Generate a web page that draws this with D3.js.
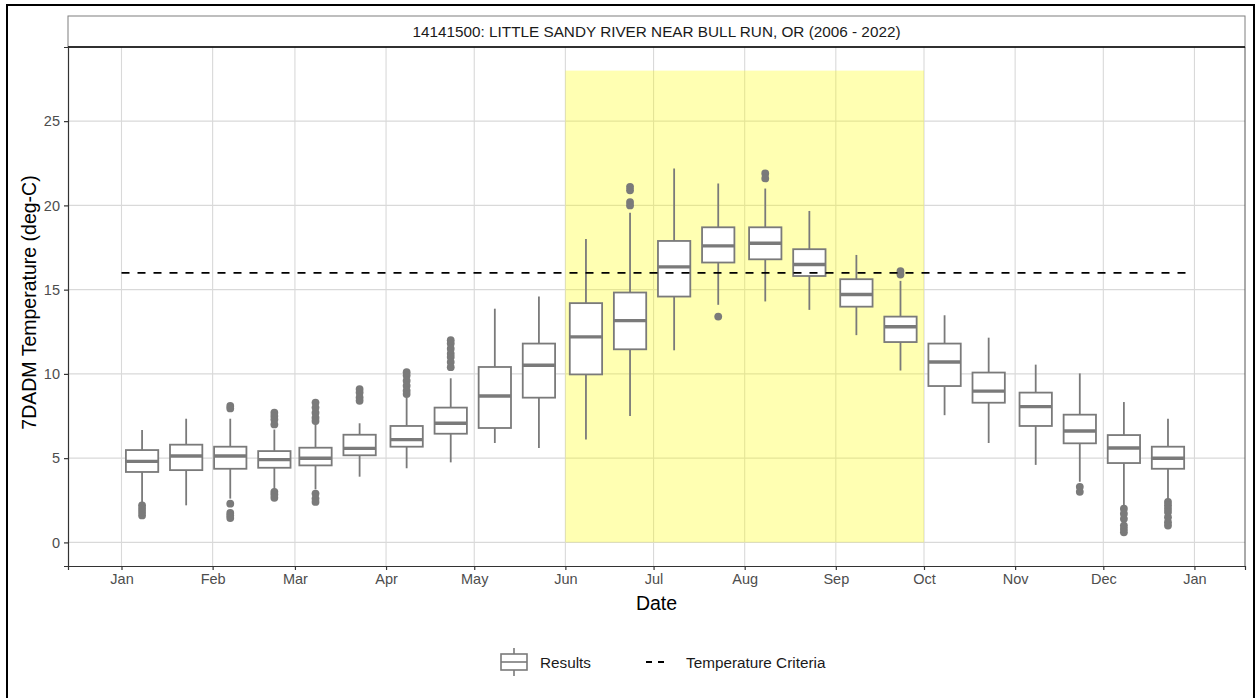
<!DOCTYPE html>
<html>
<head>
<meta charset="utf-8">
<script src="https://cdn.jsdelivr.net/npm/d3@7"></script>
<style>
  body { margin: 0; background: #fff; }
  svg { font-family: "Liberation Sans", Arial, sans-serif; }
</style>
</head>
<body>
<svg width="1257" height="698"></svg>
<script>
// semi-monthly boxes (centre dates, mm-dd)
let boxDates = ["01-08","01-23","02-07","02-22","03-08","03-23","04-08","04-23",
  "05-08","05-23","06-08","06-23","07-08","07-23","08-08","08-23",
  "09-08","09-23","10-08","10-23","11-08","11-23","12-08","12-23"];
let whiskLo = [2.35, 2.2, 2.6, 3.1, 3.15, 3.9, 4.4, 4.75, 5.9, 5.6, 6.1, 7.5,
  11.4, 14.1, 14.3, 13.8, 12.3, 10.2, 7.55, 5.9, 4.6, 3.6, 2.2, 2.55];
let q1 = [4.18, 4.29, 4.37, 4.43, 4.57, 5.17, 5.68, 6.45, 6.79, 8.59, 9.97, 11.46,
  14.59, 16.61, 16.8, 15.81, 13.99, 11.89, 9.28, 8.29, 6.91, 5.88, 4.71, 4.37];
let med = [4.81, 5.13, 5.13, 4.91, 4.99, 5.58, 6.1, 7.07, 8.69, 10.51, 12.2, 13.16,
  16.35, 17.6, 17.75, 16.49, 14.71, 12.8, 10.71, 8.98, 8.06, 6.61, 5.6, 4.99];
let q3 = [5.48, 5.8, 5.68, 5.42, 5.62, 6.39, 6.91, 8.0, 10.41, 11.8, 14.2, 14.83,
  17.89, 18.7, 18.7, 17.4, 15.62, 13.4, 11.8, 10.08, 8.89, 7.58, 6.37, 5.68];
let whiskHi = [6.67, 7.34, 7.34, 6.7, 7.1, 7.07, 8.59, 9.74, 13.87, 14.59, 18.0, 19.57,
  22.19, 21.3, 21.0, 19.67, 17.06, 15.52, 13.48, 12.15, 10.55, 10.03, 8.33, 7.34];
let outliers = [
  [2.2, 2.0, 1.8, 1.6],
  [],
  [8.1, 7.95, 2.3, 1.75, 1.6, 1.45],
  [7.7, 7.5, 7.3, 7.0, 3.0, 2.85, 2.65],
  [8.3, 8.0, 7.7, 7.4, 7.2, 2.9, 2.6, 2.4],
  [9.1, 8.9, 8.6, 8.4],
  [10.1, 9.9, 9.6, 9.3, 9.0, 8.8],
  [12.0, 11.8, 11.5, 11.2, 11.0, 10.7, 10.4],
  [], [], [],
  [21.1, 20.9, 20.2, 20.0],
  [],
  [13.4],
  [21.9, 21.6],
  [], [],
  [16.1, 15.9],
  [], [], [],
  [3.3, 3.0],
  [2.0, 1.7, 1.4, 1.0, 0.8, 0.6],
  [2.4, 2.2, 2.0, 1.8, 1.5, 1.2, 1.0]
];
let monthLabels = ["Jan","Feb","Mar","Apr","May","Jun","Jul","Aug","Sep","Oct","Nov","Dec","Jan"];
let yTicks = [0, 5, 10, 15, 20, 25];
let criteria = 16;
let critStart = "01-01", critEnd = "12-31";
let seasonStart = "06-01", seasonEnd = "10-01", seasonTop = 28;
let title = "14141500: LITTLE SANDY RIVER NEAR BULL RUN, OR (2006 - 2022)";

let yr = 2021;
let parse = s => new Date(yr, +s.slice(0, 2) - 1, +s.slice(3, 5));

let pLeft = 68, pRight = 1245, pTop = 47, pBottom = 566;
let svg = d3.select("svg");

// outer frame
svg.append("rect").attr("x", 7).attr("y", 5).attr("width", 1247).attr("height", 695)
  .attr("fill", "none").attr("stroke", "#000").attr("stroke-width", 2);

let d0 = parse("01-01"), d1 = parse("12-31");
let pad = (d1 - d0) * 0.05;
let x = d3.scaleTime()
  .domain([new Date(+d0 - pad), new Date(+d1 + pad)])
  .range([pLeft, pRight]);
let y = d3.scaleLinear().domain([-1.4, 29.4]).range([pBottom, pTop]);

let monthTicks = d3.range(13).map(i => new Date(yr, i, 1));

// grid
let grid = svg.append("g").attr("stroke", "#d9d9d9").attr("stroke-width", 1.1);
grid.selectAll(".gx").data(monthTicks).enter().append("line")
  .attr("x1", d => x(d)).attr("x2", d => x(d)).attr("y1", pTop).attr("y2", pBottom);
grid.selectAll(".gy").data(yTicks).enter().append("line")
  .attr("x1", pLeft).attr("x2", pRight).attr("y1", d => y(d)).attr("y2", d => y(d));

// season highlight
svg.append("rect")
  .attr("x", x(parse(seasonStart)))
  .attr("width", x(parse(seasonEnd)) - x(parse(seasonStart)))
  .attr("y", y(seasonTop))
  .attr("height", y(0) - y(seasonTop))
  .attr("fill", "yellow").attr("fill-opacity", 0.3);

// boxes
let boxCol = "#7a7a7a";
let half = (x(parse("01-12")) - x(parse("01-01"))) / 2;
let boxes = svg.append("g");
boxDates.forEach((s, i) => {
  let cx = x(parse(s));
  let g = boxes.append("g");
  g.append("line").attr("x1", cx).attr("x2", cx)
    .attr("y1", y(whiskHi[i])).attr("y2", y(q3[i]))
    .attr("stroke", boxCol).attr("stroke-width", 1.8);
  g.append("line").attr("x1", cx).attr("x2", cx)
    .attr("y1", y(q1[i])).attr("y2", y(whiskLo[i]))
    .attr("stroke", boxCol).attr("stroke-width", 1.8);
  g.append("rect").attr("x", cx - half).attr("width", half * 2)
    .attr("y", y(q3[i])).attr("height", y(q1[i]) - y(q3[i]))
    .attr("fill", "#fff").attr("stroke", boxCol).attr("stroke-width", 1.8);
  g.append("line").attr("x1", cx - half).attr("x2", cx + half)
    .attr("y1", y(med[i])).attr("y2", y(med[i]))
    .attr("stroke", boxCol).attr("stroke-width", 3.4);
  g.selectAll("circle").data(outliers[i]).enter().append("circle")
    .attr("cx", cx).attr("cy", d => y(d)).attr("r", 3.9).attr("fill", boxCol);
});

// criteria line
svg.append("line")
  .attr("x1", x(parse(critStart))).attr("x2", x(parse(critEnd)))
  .attr("y1", y(criteria)).attr("y2", y(criteria))
  .attr("stroke", "#000").attr("stroke-width", 1.8).attr("stroke-dasharray", "8,8");

// panel right border
svg.append("line").attr("x1", pRight).attr("x2", pRight).attr("y1", pTop).attr("y2", pBottom)
  .attr("stroke", "#555").attr("stroke-width", 1);

// strip
svg.append("rect").attr("x", pLeft).attr("y", 16).attr("width", pRight - pLeft).attr("height", pTop - 16)
  .attr("fill", "#fff").attr("stroke", "#7f7f7f").attr("stroke-width", 1);
svg.append("line").attr("x1", pLeft).attr("x2", pRight).attr("y1", pTop).attr("y2", pTop)
  .attr("stroke", "#000").attr("stroke-width", 1.6);
svg.append("text").attr("x", (pLeft + pRight) / 2).attr("y", 37)
  .attr("text-anchor", "middle").attr("font-size", 15.3).attr("fill", "#1a1a1a")
  .text(title);

// axes
let xAxis = svg.append("g").attr("transform", `translate(0,${pBottom})`)
  .call(d3.axisBottom(x).tickValues(monthTicks)
    .tickFormat((d, i) => monthLabels[i]).tickSizeOuter(0).tickSize(4).tickPadding(4));
let yAxis = svg.append("g").attr("transform", `translate(${pLeft},0)`)
  .call(d3.axisLeft(y).tickValues(yTicks).tickSizeOuter(0).tickSize(4).tickPadding(4));
[xAxis, yAxis].forEach(a => {
  a.select(".domain").attr("stroke", "#333").attr("stroke-width", 1.2);
  a.selectAll(".tick line").attr("stroke", "#333").attr("stroke-width", 1.2);
  a.selectAll(".tick text").attr("fill", "#4d4d4d").attr("font-size", 14.5)
    .attr("font-family", "Liberation Sans, Arial, sans-serif");
});

svg.append("text").attr("x", (pLeft + pRight) / 2).attr("y", 610)
  .attr("text-anchor", "middle").attr("font-size", 19.5).text("Date");
svg.append("text")
  .attr("transform", `translate(36,${(pTop + pBottom) / 2 - 4}) rotate(-90)`)
  .attr("text-anchor", "middle").attr("font-size", 19.5)
  .text("7DADM Temperature (deg-C)");

// legend
let lg = svg.append("g");
lg.append("line").attr("x1", 514).attr("x2", 514).attr("y1", 648).attr("y2", 676)
  .attr("stroke", boxCol).attr("stroke-width", 1.6);
lg.append("rect").attr("x", 501).attr("y", 654).attr("width", 26).attr("height", 16)
  .attr("fill", "#fff").attr("stroke", boxCol).attr("stroke-width", 1.6);
lg.append("line").attr("x1", 501).attr("x2", 527).attr("y1", 662).attr("y2", 662)
  .attr("stroke", boxCol).attr("stroke-width", 1.6);
lg.append("text").attr("x", 540).attr("y", 667.5).attr("font-size", 15.3).attr("fill", "#1a1a1a")
  .text("Results");
lg.append("line").attr("x1", 646).attr("x2", 664).attr("y1", 662).attr("y2", 662)
  .attr("stroke", "#000").attr("stroke-width", 1.8).attr("stroke-dasharray", "6,6");
lg.append("text").attr("x", 686).attr("y", 667.5).attr("font-size", 15.3).attr("fill", "#1a1a1a")
  .text("Temperature Criteria");
</script>
</body>
</html>
